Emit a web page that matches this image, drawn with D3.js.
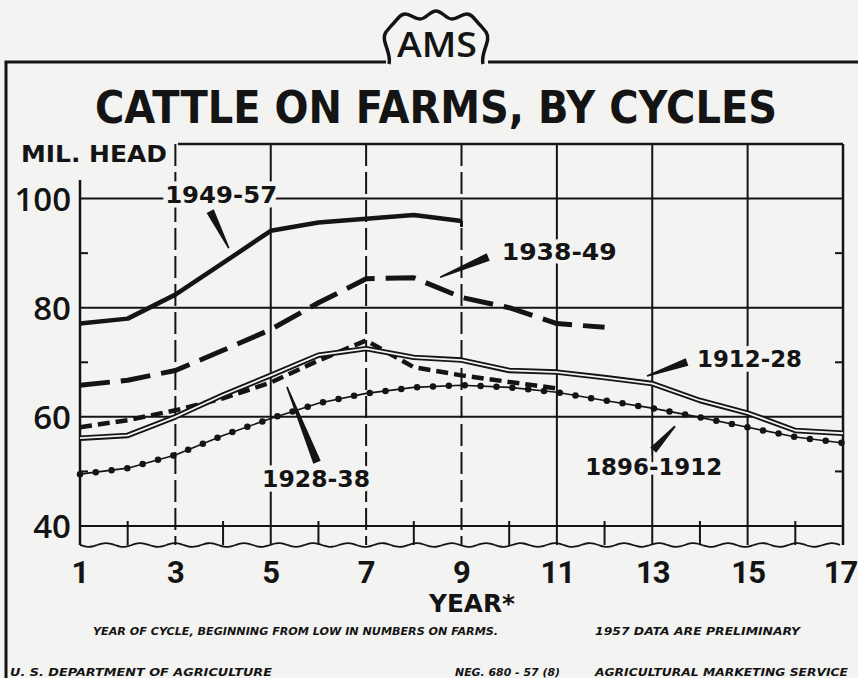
<!DOCTYPE html>
<html>
<head>
<meta charset="utf-8">
<script src="https://cdn.jsdelivr.net/npm/d3@7"></script>
<style>
  body { margin: 0; background: #f3f3f1; }
  svg { display: block; }
</style>
</head>
<body>
<script>
// year of cycle
const years = [1, 2, 3, 4, 5, 6, 7, 8, 9, 10, 11, 12, 13, 14, 15, 16, 17];
const xTickLabels = [1, 3, 5, 7, 9, 11, 13, 15, 17];
const yTickLabels = [40, 60, 80, 100];

// cattle on farms, million head, by year of cycle
const cycle1949 = [77.1, 78.0, 82.4, 88.2, 94.1, 95.6, 96.3, 97.0, 95.9];
const cycle1938 = [65.8, 66.7, 68.5, 72.2, 76.0, 80.9, 85.3, 85.5, 81.9, 80.0, 77.1, 76.4];
const cycle1928 = [58.1, 59.4, 61.2, 63.4, 66.3, 70.3, 74.0, 69.1, 67.6, 66.4, 65.2];
const cycle1912 = [56.1, 56.6, 60.0, 64.0, 67.6, 71.3, 72.5, 70.9, 70.4, 68.5, 68.2, 67.2, 66.1, 63.0, 60.7, 57.5, 57.0];
const cycle1896 = [49.5, 50.6, 53.0, 56.6, 59.7, 62.5, 64.3, 65.4, 65.8, 65.4, 64.5, 63.0, 61.6, 59.9, 58.1, 56.3, 55.2];

const seriesNames = ["1949-57", "1938-49", "1928-38", "1912-28", "1896-1912"];

const INK = "#141414";
const BG = "#f3f3f1";

let width = 858, height = 678;
let svg = d3.select('body').append('svg')
  .attr('width', width)
  .attr('height', height);

svg.append('rect').attr('width', width).attr('height', height).attr('fill', BG);

let x = d3.scaleLinear().domain([1, 17]).range([80, 843]);
let y = d3.scaleLinear().domain([40, 110]).range([526, 144]);
let bottomY = 545;

// outer frame
svg.append('path')
  .attr('d', 'M6,678 L6,62 L386,62 M488,62 L858,62')
  .attr('fill', 'none').attr('stroke', INK).attr('stroke-width', 3);

// AMS shield
svg.append('path')
  .attr('d', 'M389,64 C392,52 380,41 386,32 L391,26 C397,20 400,14 405,14 C410,14 415,19 420,19 ' +
             'C426,19 430,11 436,11 C442,11 446,19 452,19 C457,19 462,14 467,14 C472,14 475,20 481,26 ' +
             'L486,32 C492,41 480,52 483,64')
  .attr('fill', BG).attr('stroke', INK).attr('stroke-width', 3.5).attr('stroke-linejoin', 'round');
svg.append('text')
  .attr('x', 437).attr('y', 57)
  .attr('text-anchor', 'middle')
  .attr('font-family', 'Open Sans').attr('font-weight', 600)
  .attr('font-size', 35)
  .attr('textLength', 80).attr('lengthAdjust', 'spacingAndGlyphs')
  .attr('fill', INK)
  .text('AMS');

// title
svg.append('text')
  .attr('x', 95).attr('y', 123)
  .attr('font-family', 'DejaVu Sans').attr('font-weight', 'bold')
  .attr('font-size', 44)
  .attr('textLength', 682).attr('lengthAdjust', 'spacingAndGlyphs')
  .attr('fill', INK)
  .text('CATTLE ON FARMS, BY CYCLES');

svg.append('text')
  .attr('x', 21).attr('y', 162)
  .attr('font-family', 'DejaVu Sans').attr('font-weight', 'bold')
  .attr('font-size', 23)
  .attr('textLength', 146).attr('lengthAdjust', 'spacingAndGlyphs')
  .attr('fill', INK)
  .text('MIL. HEAD');

// ---------- grid ----------
let grid = svg.append('g').attr('stroke', INK).attr('fill', 'none');

// top border, left axis, right border
grid.append('line').attr('x1', 178).attr('x2', x(17)).attr('y1', y(110)).attr('y2', y(110)).attr('stroke-width', 2.5);
grid.append('line').attr('x1', x(1)).attr('x2', x(1)).attr('y1', 180).attr('y2', bottomY).attr('stroke-width', 2.5);
grid.append('line').attr('x1', x(17)).attr('x2', x(17)).attr('y1', y(110)).attr('y2', bottomY).attr('stroke-width', 2.5);

// horizontal grid lines
grid.selectAll('.hgrid')
  .data(yTickLabels)
  .enter().append('line')
  .attr('class', 'hgrid')
  .attr('x1', x(1)).attr('x2', x(17))
  .attr('y1', d => y(d)).attr('y2', d => y(d))
  .attr('stroke-width', 2);

// minor ticks on both sides
[50, 70, 90].forEach(function(v) {
  grid.append('line').attr('x1', x(1)).attr('x2', x(1) + 8).attr('y1', y(v)).attr('y2', y(v)).attr('stroke-width', 2);
  grid.append('line').attr('x1', x(17) - 8).attr('x2', x(17)).attr('y1', y(v)).attr('y2', y(v)).attr('stroke-width', 2);
});

// vertical grid lines on odd years, short ticks on even years
years.slice(1, -1).forEach(function(yr) {
  let odd = yr % 2 == 1;
  let l = grid.append('line')
    .attr('x1', x(yr)).attr('x2', x(yr))
    .attr('y1', odd ? y(110) : y(40) - 5).attr('y2', bottomY)
    .attr('stroke-width', 2);
  if (yr == 3 || yr == 7 || yr == 9) l.attr('stroke-dasharray', '22,6');
});

// wavy break line under the 40 line
let wave = [];
for (let px = x(1); px <= x(17); px += 4) {
  wave.push([px, bottomY + 2 * Math.sin((px - x(1)) / 5.5)]);
}
grid.append('path')
  .attr('d', d3.line().curve(d3.curveBasis)(wave))
  .attr('stroke-width', 1.8);

// ---------- axes labels ----------
let yAxis = svg.append('g')
  .attr('transform', 'translate(' + x(1) + ',0)')
  .call(d3.axisLeft(y).tickValues(yTickLabels).tickSize(0).tickPadding(9));
yAxis.select('.domain').remove();
yAxis.selectAll('text')
  .attr('font-family', 'Open Sans').attr('font-weight', 600)
  .attr('font-size', 33).attr('fill', INK)
  .attr('dy', '0.36em');

let xAxis = svg.append('g')
  .attr('transform', 'translate(0,' + bottomY + ')')
  .call(d3.axisBottom(x).tickValues(xTickLabels).tickSize(0).tickPadding(16));
xAxis.select('.domain').remove();
xAxis.selectAll('text')
  .attr('font-family', 'Roboto').attr('font-weight', 700)
  .attr('font-size', 31).attr('fill', INK)
  .attr('letter-spacing', d => d > 9 ? -1 : 0)
  .attr('dx', d => d == 17 ? -3 : 0);

svg.append('text')
  .attr('x', 472).attr('y', 612)
  .attr('text-anchor', 'middle')
  .attr('font-family', 'DejaVu Sans').attr('font-weight', 'bold')
  .attr('font-size', 24)
  .attr('textLength', 86).attr('lengthAdjust', 'spacingAndGlyphs')
  .attr('fill', INK)
  .text('YEAR*');

// ---------- series ----------
let line = d3.line()
  .x((d, i) => x(years[i]))
  .y(d => y(d));

let plot = svg.append('g').attr('fill', 'none').attr('stroke-linejoin', 'round');

// 1896-1912 : dotted
plot.append('path').attr('d', line(cycle1896)).attr('stroke', INK).attr('stroke-width', 1.6);
plot.append('path').attr('d', line(cycle1896))
  .attr('stroke', INK).attr('stroke-width', 6.5)
  .attr('stroke-linecap', 'round').attr('stroke-dasharray', '0,15.9');

// 1928-38 : short dashes
plot.append('path').attr('d', line(cycle1928))
  .attr('stroke', INK).attr('stroke-width', 4.5)
  .attr('stroke-dasharray', '12,6');

// 1912-28 : double line
plot.append('path').attr('d', line(cycle1912)).attr('stroke', INK).attr('stroke-width', 5.5);
plot.append('path').attr('d', line(cycle1912)).attr('stroke', BG).attr('stroke-width', 1.8);

// 1938-49 : long dashes
plot.append('path').attr('d', line(cycle1938))
  .attr('stroke', INK).attr('stroke-width', 5)
  .attr('stroke-dasharray', '30,11');

// 1949-57 : heavy solid
plot.append('path').attr('d', line(cycle1949))
  .attr('stroke', INK).attr('stroke-width', 4.5);
plot.append('line')
  .attr('x1', x(9)).attr('x2', x(9))
  .attr('y1', y(cycle1949[8])).attr('y2', y(cycle1949[8]) + 6)
  .attr('stroke', INK).attr('stroke-width', 3);

// ---------- series labels (positions in data units) ----------
const labelYear = [3.96, 11.05, 5.95, 15.04, 13.03];
const labelValue = [99.2, 88.74, 47.15, 69.14, 49.35];
const labelWidth = [112, 115, 108, 105, 137];
const pointerFrom = [[3.73, 97.7], [9.56, 89.3], [5.97, 51.7], [13.73, 70.05], [13.02, 53.9]];
const pointerTo = [[4.12, 90.9], [8.55, 85.6], [5.34, 65.5], [12.89, 67.5], [13.48, 58.3]];

let labels = svg.append('g');
labels.selectAll('text')
  .data(seriesNames)
  .enter().append('text')
  .attr('x', (d, i) => x(labelYear[i]))
  .attr('y', (d, i) => y(labelValue[i]))
  .attr('text-anchor', 'middle')
  .attr('font-family', 'DejaVu Sans').attr('font-weight', 'bold')
  .attr('font-size', 23)
  .attr('textLength', (d, i) => labelWidth[i]).attr('lengthAdjust', 'spacingAndGlyphs')
  .attr('fill', INK)
  .attr('stroke', BG).attr('stroke-width', 9).attr('paint-order', 'stroke')
  .text(d => d);

// tapered pointers
labels.selectAll('path')
  .data(seriesNames)
  .enter().append('path')
  .attr('fill', INK)
  .attr('d', function(d, i) {
    let x0 = x(pointerFrom[i][0]), y0 = y(pointerFrom[i][1]);
    let x1 = x(pointerTo[i][0]), y1 = y(pointerTo[i][1]);
    let len = Math.hypot(x1 - x0, y1 - y0);
    let nx = -(y1 - y0) / len, ny = (x1 - x0) / len;
    let w0 = 4, w1 = 0.8;
    return 'M' + (x0 + nx * w0) + ',' + (y0 + ny * w0) +
      'L' + (x1 + nx * w1) + ',' + (y1 + ny * w1) +
      'L' + (x1 - nx * w1) + ',' + (y1 - ny * w1) +
      'L' + (x0 - nx * w0) + ',' + (y0 - ny * w0) + 'Z';
  });

// ---------- footnotes ----------
const footTexts = [
  { t: 'YEAR OF CYCLE, BEGINNING FROM LOW IN NUMBERS ON FARMS.', x: 93, y: 635, w: 405 },
  { t: '1957 DATA ARE PRELIMINARY', x: 595, y: 635, w: 205 },
  { t: 'U. S. DEPARTMENT OF AGRICULTURE', x: 10, y: 676, w: 262 },
  { t: 'NEG. 680 - 57 (8)', x: 455, y: 676, w: 105 },
  { t: 'AGRICULTURAL MARKETING SERVICE', x: 595, y: 676, w: 253 }
];
svg.append('g').selectAll('text')
  .data(footTexts)
  .enter().append('text')
  .attr('x', d => d.x).attr('y', d => d.y)
  .attr('font-family', 'DejaVu Sans').attr('font-weight', 'bold').attr('font-style', 'italic')
  .attr('font-size', 10)
  .attr('textLength', d => d.w).attr('lengthAdjust', 'spacingAndGlyphs')
  .attr('fill', INK)
  .text(d => d.t);
</script>
</body>
</html>
